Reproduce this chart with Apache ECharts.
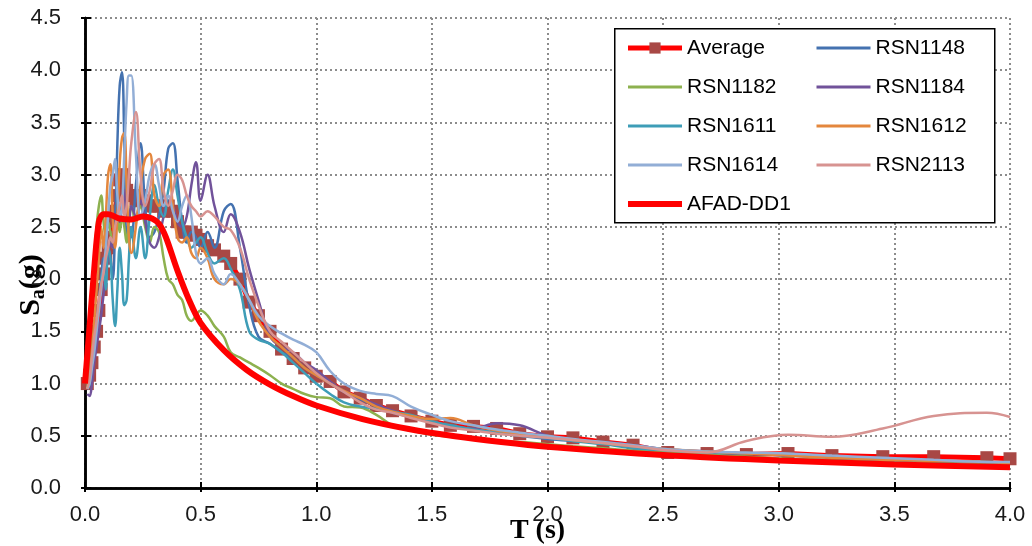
<!DOCTYPE html>
<html>
<head>
<meta charset="utf-8">
<script src="https://cdn.jsdelivr.net/npm/echarts@6/dist/echarts.min.js"></script>
<style>
  html, body { margin: 0; padding: 0; background: #fff; }
  #chart { width: 1032px; height: 546px; }
</style>
</head>
<body>
<div id="chart"></div>
<script>
// periods (s) shared by the records and the average
var periods = [0.01, 0.02, 0.03, 0.04, 0.05, 0.06, 0.07, 0.08, 0.09, 0.10,
  0.11, 0.12, 0.13, 0.14, 0.15, 0.16, 0.17, 0.18, 0.19, 0.20,
  0.22, 0.24, 0.26, 0.28, 0.30, 0.32, 0.34, 0.36, 0.38, 0.40,
  0.42, 0.44, 0.46, 0.48, 0.50, 0.53, 0.56, 0.60, 0.63, 0.67,
  0.71, 0.75, 0.80, 0.85, 0.90, 0.95, 1.00, 1.06, 1.12, 1.19,
  1.26, 1.33, 1.41, 1.50, 1.58, 1.68, 1.78, 1.88, 2.00, 2.11,
  2.24, 2.37, 2.52, 2.69, 2.86, 3.04, 3.23, 3.45, 3.67, 3.90, 4.00];

var average = [1.00, 1.08, 1.20, 1.35, 1.50, 1.70, 1.90, 2.05, 2.20, 2.30,
  2.40, 2.55, 2.65, 2.80, 2.95, 3.00, 2.95, 2.85, 2.80, 2.80,
  2.75, 2.80, 2.75, 2.70, 2.70, 2.70, 2.65, 2.70, 2.65, 2.55,
  2.45, 2.45, 2.45, 2.42, 2.38, 2.32, 2.28, 2.22, 2.15, 2.00,
  1.78, 1.65, 1.50, 1.33, 1.24, 1.15, 1.07, 1.02, 0.92, 0.86,
  0.79, 0.74, 0.69, 0.64, 0.60, 0.59, 0.57, 0.52, 0.49, 0.48,
  0.44, 0.41, 0.34, 0.33, 0.32, 0.33, 0.31, 0.30, 0.30, 0.29, 0.28];

var rsn1148 = [0.95, 0.98, 1.10, 1.30, 1.50, 1.75, 2.00, 2.20, 2.10, 2.30,
  2.20, 2.00, 2.50, 3.30, 3.85, 3.98, 3.30, 2.40, 2.50, 2.40,
  2.90, 3.30, 2.70, 2.40, 2.45, 2.60, 2.85, 3.25, 3.30, 2.95,
  2.55, 2.35, 2.45, 2.40, 2.30, 2.45, 2.30, 2.65, 2.72, 2.30,
  1.75, 1.45, 1.38, 1.30, 1.25, 1.15, 1.08, 1.00, 0.92, 0.85,
  0.78, 0.72, 0.68, 0.63, 0.60, 0.56, 0.53, 0.50, 0.47, 0.45,
  0.43, 0.40, 0.36, 0.34, 0.33, 0.31, 0.30, 0.28, 0.26, 0.24, 0.24];

var rsn1182 = [0.95, 1.20, 1.70, 2.20, 2.50, 2.70, 2.80, 2.55, 2.40, 2.55,
  2.45, 2.30, 2.50, 2.60, 2.45, 2.60, 2.50, 2.35, 2.55, 2.70,
  2.55, 2.70, 2.50, 2.35, 2.50, 2.45, 2.20, 2.00, 1.95, 1.85,
  1.80, 1.65, 1.60, 1.65, 1.70, 1.65, 1.55, 1.45, 1.30, 1.25,
  1.20, 1.15, 1.08, 1.00, 0.95, 0.90, 0.87, 0.86, 0.78, 0.77,
  0.70, 0.60, 0.55, 0.51, 0.49, 0.47, 0.45, 0.44, 0.42, 0.40,
  0.38, 0.36, 0.34, 0.32, 0.30, 0.28, 0.27, 0.26, 0.25, 0.24, 0.23];

var rsn1184 = [0.90, 0.88, 1.00, 1.20, 1.35, 1.50, 1.65, 1.85, 2.05, 2.20,
  2.35, 2.30, 2.50, 2.65, 2.55, 2.70, 2.85, 2.60, 2.55, 2.70,
  2.60, 2.75, 2.55, 2.35, 2.30, 2.40, 2.60, 2.75, 2.70, 2.55,
  2.50, 2.60, 2.90, 3.12, 2.75, 3.00, 2.70, 2.45, 2.62, 2.45,
  2.10, 1.80, 1.45, 1.35, 1.30, 1.20, 1.13, 1.02, 0.93, 0.86,
  0.80, 0.74, 0.69, 0.64, 0.58, 0.57, 0.62, 0.60, 0.50, 0.46,
  0.44, 0.41, 0.37, 0.35, 0.33, 0.31, 0.29, 0.27, 0.26, 0.25, 0.24];

var rsn1611 = [0.95, 1.00, 1.20, 1.45, 1.60, 1.75, 2.00, 2.10, 1.90, 2.30,
  2.20, 1.80, 1.55, 1.90, 2.30, 2.05, 1.75, 1.80, 2.20, 2.50,
  2.20, 2.50, 2.20, 2.60, 2.90, 2.70, 2.60, 2.85, 3.05, 2.80,
  2.55, 2.40, 2.30, 2.35, 2.40, 2.25, 2.15, 2.20, 2.10, 1.90,
  1.50, 1.42, 1.38, 1.30, 1.20, 1.10, 1.00, 0.90, 0.82, 0.78,
  0.76, 0.73, 0.70, 0.64, 0.60, 0.56, 0.53, 0.50, 0.48, 0.45,
  0.42, 0.38, 0.36, 0.34, 0.33, 0.32, 0.30, 0.28, 0.26, 0.25, 0.24];

var rsn1612 = [0.95, 1.05, 1.30, 1.60, 1.90, 2.20, 2.50, 2.30, 2.60, 3.00,
  3.10, 2.60, 2.30, 2.60, 3.10, 3.35, 3.40, 2.90, 2.40, 2.25,
  2.50, 2.90, 3.15, 3.20, 2.80, 2.70, 3.00, 3.05, 2.70, 2.40,
  2.35, 2.40, 2.25, 2.20, 2.30, 2.20, 2.00, 1.95, 2.00, 1.95,
  1.80, 1.60, 1.45, 1.35, 1.25, 1.15, 1.08, 1.00, 0.93, 0.86,
  0.78, 0.73, 0.69, 0.66, 0.67, 0.60, 0.55, 0.52, 0.49, 0.46,
  0.43, 0.40, 0.37, 0.35, 0.33, 0.31, 0.29, 0.27, 0.26, 0.25, 0.24];

var rsn1614 = [0.95, 1.00, 1.15, 1.30, 1.50, 1.70, 1.90, 2.10, 2.30, 2.60,
  2.90, 3.00, 3.15, 2.80, 2.60, 2.70, 3.20, 3.70, 3.95, 3.95,
  3.20, 2.60, 2.75, 3.00, 3.10, 2.90, 2.70, 2.80, 2.65, 2.55,
  2.70, 2.80, 2.60, 2.25, 2.15, 2.20, 2.05, 1.95, 2.05, 1.95,
  1.80, 1.65, 1.55, 1.48, 1.42, 1.37, 1.30, 1.12, 1.00, 0.93,
  0.90, 0.88, 0.78, 0.70, 0.64, 0.60, 0.56, 0.53, 0.50, 0.47,
  0.44, 0.41, 0.37, 0.35, 0.34, 0.33, 0.31, 0.29, 0.27, 0.25, 0.25];

var rsn2113 = [0.95, 1.05, 1.25, 1.45, 1.60, 1.80, 1.95, 2.05, 2.20, 2.30,
  2.40, 2.35, 2.50, 2.60, 2.70, 2.80, 2.60, 2.70, 3.00, 3.30,
  3.60, 3.00, 2.70, 2.85, 3.10, 3.15, 2.85, 2.70, 2.85, 3.00,
  2.95, 2.80, 2.70, 2.65, 2.60, 2.65, 2.60, 2.50, 2.47, 2.30,
  2.00, 1.75, 1.50, 1.40, 1.30, 1.20, 1.10, 1.00, 0.92, 0.82,
  0.75, 0.72, 0.67, 0.62, 0.58, 0.55, 0.52, 0.50, 0.48, 0.46,
  0.43, 0.40, 0.36, 0.34, 0.45, 0.51, 0.49, 0.57, 0.69, 0.72, 0.68];

// AFAD design spectrum (DD1)
var afadT = [0.0, 0.02, 0.04, 0.06, 0.08, 0.10, 0.15, 0.20, 0.25, 0.29,
  0.32, 0.35, 0.40, 0.45, 0.50, 0.60, 0.70, 0.80, 0.90, 1.00,
  1.20, 1.40, 1.60, 1.80, 2.00, 2.50, 3.00, 3.50, 4.00];
var afadSa = [1.00, 1.55, 2.10, 2.55, 2.62, 2.62, 2.58, 2.57, 2.60, 2.58,
  2.53, 2.40, 2.08, 1.80, 1.58, 1.32, 1.13, 0.99, 0.88, 0.79,
  0.66, 0.565, 0.495, 0.44, 0.395, 0.316, 0.263, 0.226, 0.198];

var records = [
  { name: 'RSN1148', ys: rsn1148, color: '#4472B0' },
  { name: 'RSN1182', ys: rsn1182, color: '#8DB14F' },
  { name: 'RSN1184', ys: rsn1184, color: '#71529A' },
  { name: 'RSN1611', ys: rsn1611, color: '#3E9DB7' },
  { name: 'RSN1612', ys: rsn1612, color: '#E4873D' },
  { name: 'RSN1614', ys: rsn1614, color: '#92AED6' },
  { name: 'RSN2113', ys: rsn2113, color: '#D79391' }
];

function pairs(xs, ys) {
  return xs.map(function (t, i) { return [t, ys[i]]; });
}

var sans = 'Liberation Sans';
var serif = 'Liberation Serif';

var series = [];
series.push({
  name: 'Average',
  type: 'line',
  data: pairs(periods, average),
  symbol: 'rect',
  symbolSize: 13,
  itemStyle: { color: '#A84845' },
  lineStyle: { color: '#FF0000', width: 5 },
  clip: false,
  z: 2
});
records.forEach(function (r) {
  series.push({
    name: r.name,
    type: 'line',
    data: pairs(periods, r.ys),
    smooth: 0.4,
    symbol: 'none',
    itemStyle: { color: r.color },
    lineStyle: { color: r.color, width: 2.5 },
    z: 3
  });
});
series.push({
  name: 'AFAD-DD1',
  type: 'line',
  data: pairs(afadT, afadSa),
  smooth: 0.3,
  symbol: 'none',
  itemStyle: { color: '#FF0000' },
  lineStyle: { color: '#FF0000', width: 6 },
  z: 4
});

// legend entries: plain lines for the records, line + square for the average
function lineItem(name, w) {
  return { name: name, itemStyle: { opacity: 0 }, lineStyle: { width: w } };
}
var legendText = { fontFamily: sans, fontSize: 21, color: '#000', lineHeight: 24 };

var myChart = echarts.init(document.getElementById('chart'));
var option = {
  animation: false,
  backgroundColor: '#fff',
  grid: { left: 85, right: 22, top: 18, bottom: 58, outerBoundsMode: 'none', containLabel: false },
  xAxis: [
    {
      type: 'value', min: 0, max: 4, interval: 0.5,
      name: 'T (s)', nameLocation: 'middle', nameGap: 29, nameMoveOverlap: false,
      nameTextStyle: { fontFamily: serif, fontWeight: 'bold', fontSize: 28, color: '#000', padding: [0, 20, 0, 0] },
      axisLine: { show: true, lineStyle: { color: '#000', width: 2.5 } },
      axisTick: { show: true, inside: true, length: 6, lineStyle: { color: '#000', width: 2 } },
      axisLabel: { margin: 16, fontFamily: sans, fontSize: 22, color: '#1a1a1a',
        formatter: function (v) { return v.toFixed(1); } },
      splitLine: { show: true, lineStyle: { color: '#8c8c8c', width: 2, type: [2, 3] } }
    },
    {
      type: 'value', min: 0, max: 4, interval: 0.5, position: 'top',
      axisLine: { show: true, lineStyle: { color: '#000', width: 2.5 } },
      axisTick: { show: true, inside: true, length: 4, lineStyle: { color: '#000', width: 2 } },
      axisLabel: { show: false },
      splitLine: { show: false }
    }
  ],
  yAxis: [
    {
      type: 'value', min: 0, max: 4.5, interval: 0.5,
      name: '{s|S}{sub|a}{s|(g)}', nameLocation: 'middle', nameGap: 36, nameMoveOverlap: false,
      nameTextStyle: {
        padding: [0, 64, 0, 0],
        rich: {
          s: { fontFamily: serif, fontWeight: 'bold', fontSize: 30, color: '#000' },
          sub: { fontFamily: serif, fontWeight: 'bold', fontSize: 20, color: '#000', padding: [16, 0, 0, 0] }
        }
      },
      axisLine: { show: true, lineStyle: { color: '#000', width: 2.5 } },
      axisTick: { show: true, inside: true, length: 6, lineStyle: { color: '#000', width: 2 } },
      axisLabel: { margin: 24, fontFamily: sans, fontSize: 22, color: '#1a1a1a',
        formatter: function (v) { return v.toFixed(1); } },
      splitLine: { show: true, lineStyle: { color: '#8c8c8c', width: 2, type: [2, 3] } }
    },
    {
      type: 'value', min: 0, max: 4.5, interval: 0.5, position: 'right',
      axisLine: { show: true, lineStyle: { color: '#000', width: 2.5 } },
      axisTick: { show: true, inside: true, length: 4, lineStyle: { color: '#000', width: 2 } },
      axisLabel: { show: false },
      splitLine: { show: false }
    }
  ],
  graphic: [{
    type: 'rect', left: 614, top: 28, z: 100,
    shape: { width: 380, height: 194 },
    style: { fill: '#fff', stroke: '#000', lineWidth: 1.5 }
  }],
  legend: [
    {
      data: [
        { name: 'Average', lineStyle: { width: 5 } },
        lineItem('RSN1182', 3), lineItem('RSN1611', 3), lineItem('RSN1614', 3),
        lineItem('AFAD-DD1', 6)
      ],
      orient: 'vertical', left: 625, top: 36, itemGap: 15, padding: 0,
      itemWidth: 54, itemHeight: 14, selectedMode: false, z: 110,
      textStyle: legendText
    },
    {
      data: [lineItem('RSN1148', 3), lineItem('RSN1184', 3), lineItem('RSN1612', 3), lineItem('RSN2113', 3)],
      orient: 'vertical', left: 815, top: 36, itemGap: 15, padding: 0,
      itemWidth: 54, itemHeight: 14, selectedMode: false, z: 110,
      textStyle: legendText
    }
  ],
  series: series
};
myChart.setOption(option);
</script>
</body>
</html>
